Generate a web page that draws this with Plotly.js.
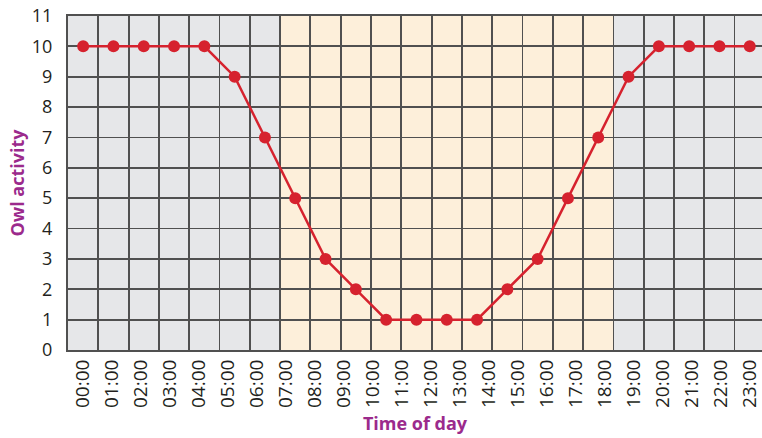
<!DOCTYPE html>
<html>
<head>
<meta charset="utf-8">
<script src="https://cdn.plot.ly/plotly-3.0.1.min.js"></script>
<style>html,body{margin:0;padding:0;overflow:hidden;background:#fff}</style>
</head>
<body>
<div id="chart" style="width:762px;height:438px"></div>
<script>
// Tick labels along the x axis (24 labels)
const timeLabels = ["00:00","01:00","02:00","03:00","04:00","05:00","06:00","07:00","08:00","09:00","10:00","11:00",
                    "12:00","13:00","14:00","15:00","16:00","17:00","18:00","19:00","20:00","21:00","22:00","23:00"];
// Owl activity, one value per grid cell (23 cells as drawn)
const owlActivity = [10,10,10,10,10,9,7,5,3,2,1,1,1,1,2,3,5,7,9,10,10,10,10];
// Daylight cells (first and last cell index shaded as day)
const dayCells = [7, 17];
const yTicks = [0,1,2,3,4,5,6,7,8,9,10,11];

const cellIdx = owlActivity.map((_, i) => i);
const nCells = owlActivity.length;
const labelPos = timeLabels.map((_, j) => j * (nCells - 1) / (timeLabels.length - 1));

const purple = "#9b2a8c";
const red = "#d6222e";
const gridCol = "#505050";
const font = "'Open Sans', 'Noto Sans', sans-serif";

const trace = {
  x: cellIdx, y: owlActivity, type: "scatter", mode: "lines+markers",
  line: {color: red, width: 2.5},
  marker: {color: red, size: 12},
  hoverinfo: "skip", cliponaxis: false
};

const layout = {
  width: 762, height: 438,
  margin: {l: 68, r: 0, t: 16, b: 88},
  paper_bgcolor: "#ffffff",
  plot_bgcolor: "#e6e7e9",
  showlegend: false,
  font: {family: font, color: "#231f20", size: 17},
  xaxis: {
    range: [-0.5, -0.5 + 694 / 30.3],
    tickmode: "array", tickvals: labelPos, ticktext: timeLabels,
    tickangle: -90, ticks: "", showgrid: false, zeroline: false,
    tickfont: {family: font, size: 19, color: "#231f20"},
    showline: true, mirror: true, linecolor: gridCol, linewidth: 2,
    minor: {showgrid: true, tick0: -0.5, dtick: 1, gridcolor: gridCol, gridwidth: 1.8, ticks: ""},
    title: {text: "<b>Time of day</b>", font: {family: font, size: 18, color: purple}, standoff: 10},
    fixedrange: true
  },
  yaxis: {
    range: [0, 11], tickmode: "array", tickvals: yTicks,
    ticks: "", ticklabelstandoff: 10,
    showgrid: true, gridcolor: gridCol, gridwidth: 1.8, zeroline: false,
    showline: true, linecolor: gridCol, linewidth: 2,
    tickfont: {family: font, size: 18, color: "#231f20"},
    title: {text: "<b>Owl activity</b>", font: {family: font, size: 18, color: purple}, standoff: 3},
    fixedrange: true
  },
  shapes: [{
    type: "rect", xref: "x", yref: "paper", layer: "below",
    x0: dayCells[0] - 0.5, x1: dayCells[1] + 0.5, y0: 0, y1: 1,
    fillcolor: "#fdefda", line: {width: 0}
  }]
};

Plotly.newPlot("chart", [trace], layout, {displayModeBar: false, staticPlot: true});
</script>
</body>
</html>
